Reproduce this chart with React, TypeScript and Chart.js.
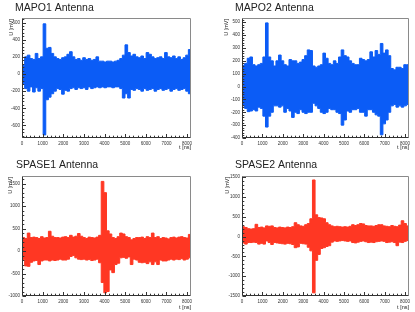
import React, { useEffect, useRef } from "react";
import { Chart, registerables } from "chart.js";

Chart.register(...registerables);

// ---- data (envelope of each waveform per 128 ns bin, in mV) ----
const BIN_NS = 128;
const RECORD_NS = 8192;

const xTickLabels = [0, 1000, 2000, 3000, 4000, 5000, 6000, 7000, 8000];

const mapo1Hi = [100, 200, 220, 180, 170, 240, 180, 200, 585, 300, 310, 240, 200, 180, 170, 190, 200, 230, 260, 200, 170, 180, 160, 190, 170, 180, 160, 170, 200, 150, 150, 140, 150, 150, 140, 150, 160, 180, 220, 340, 250, 210, 230, 200, 190, 210, 180, 250, 230, 200, 180, 190, 200, 180, 250, 200, 190, 210, 180, 200, 170, 190, 220, 285];
const mapo1Lo = [-110, -170, -200, -150, -210, -160, -200, -170, -710, -300, -270, -230, -200, -170, -180, -235, -190, -200, -170, -160, -180, -160, -170, -160, -180, -150, -170, -160, -150, -160, -150, -160, -150, -150, -160, -150, -150, -170, -280, -230, -280, -180, -190, -170, -180, -200, -170, -190, -180, -170, -200, -180, -170, -190, -180, -170, -200, -180, -170, -190, -180, -170, -200, -230];
const mapo1YTicks = [-600, -400, -200, 0, 200, 400, 600];

const mapo2Hi = [165, 180, 220, 230, 170, 160, 170, 180, 230, 495, 230, 200, 160, 200, 245, 200, 170, 160, 210, 200, 200, 180, 190, 210, 240, 285, 280, 160, 150, 160, 170, 260, 220, 180, 170, 200, 180, 230, 285, 240, 230, 200, 180, 170, 170, 220, 210, 200, 210, 270, 230, 280, 250, 335, 260, 285, 240, 140, 130, 150, 150, 140, 170, 170];
const mapo2Lo = [-150, -170, -195, -190, -180, -190, -160, -170, -230, -315, -230, -200, -150, -150, -160, -150, -200, -170, -190, -240, -200, -210, -180, -200, -210, -200, -200, -130, -150, -170, -200, -210, -200, -170, -180, -180, -200, -210, -300, -260, -190, -200, -180, -180, -170, -200, -200, -230, -180, -180, -200, -220, -230, -375, -290, -260, -200, -150, -140, -160, -150, -160, -150, -140];
const mapo2YTicks = [-400, -300, -200, -100, 0, 100, 200, 300, 400, 500];

const spase1Hi = [300, 280, 400, 300, 310, 300, 280, 320, 290, 300, 440, 330, 300, 300, 290, 310, 320, 300, 350, 310, 330, 390, 330, 300, 280, 310, 300, 290, 310, 350, 1550, 1300, 450, 380, 300, 280, 320, 400, 380, 320, 300, 250, 280, 300, 300, 310, 280, 320, 300, 400, 300, 320, 280, 300, 290, 270, 300, 310, 290, 310, 320, 300, 290, 370];
const spase1Lo = [-190, -330, -340, -250, -220, -210, -300, -220, -200, -200, -220, -200, -210, -200, -180, -200, -200, -180, -120, -100, -150, -180, -190, -180, -200, -190, -210, -200, -180, -260, -700, -930, -900, -420, -480, -300, -270, -150, -140, -160, -130, -300, -180, -200, -250, -260, -250, -280, -240, -300, -240, -300, -200, -220, -220, -200, -180, -200, -180, -190, -170, -200, -180, -150];
const spase1YTicks = [-1000, -500, 0, 500, 1000, 1500];

const spase2Hi = [250, 230, 200, 190, 200, 310, 230, 240, 220, 270, 260, 270, 230, 220, 240, 230, 220, 240, 230, 250, 350, 300, 270, 260, 300, 330, 450, 1430, 550, 480, 470, 450, 350, 300, 270, 250, 260, 250, 240, 250, 240, 260, 300, 280, 300, 330, 320, 280, 270, 270, 260, 280, 300, 300, 270, 260, 250, 280, 260, 250, 290, 400, 330, 270];
const spase2Lo = [-160, -190, -150, -150, -140, -150, -190, -170, -190, -110, -150, -200, -150, -160, -170, -180, -190, -170, -180, -200, -280, -260, -170, -180, -190, -270, -360, -1420, -600, -450, -300, -280, -250, -230, -140, -110, -120, -110, -100, -110, -120, -110, -150, -160, -140, -120, -110, -130, -150, -140, -150, -130, -120, -110, -120, -150, -140, -130, -150, -230, -140, -150, -120, -100];
const spase2YTicks = [-1500, -1000, -500, 0, 500, 1000, 1500];

// ---- styling ----
const BLUE = "#0b5cf6";
const RED = "#ff3723";
const FONT = '"Liberation Sans", Arial, Helvetica, sans-serif';

type Panel = {
  title: string;
  hi: number[];
  lo: number[];
  color: string;
  yMin: number;
  yMax: number;
  yTicks: number[];
  yMinorStep: number;
  box: { x: number; y: number; w: number; h: number };
  area: { l: number; r: number; t: number; b: number };
  titleX: number;
  titleY: number;
  yTitleX: number;
  xTitleY: number;
};

const panels: Panel[] = [
  {
    title: "MAPO1 Antenna", hi: mapo1Hi, lo: mapo1Lo, color: BLUE,
    yMin: -746, yMax: 653, yTicks: mapo1YTicks, yMinorStep: 40,
    box: { x: 0, y: 0, w: 207, h: 156 }, area: { l: 22, r: 191, t: 18, b: 138 },
    titleX: 15, titleY: 11, yTitleX: 11.5, xTitleY: 147.5,
  },
  {
    title: "MAPO2 Antenna", hi: mapo2Hi, lo: mapo2Lo, color: BLUE,
    yMin: -400, yMax: 533, yTicks: mapo2YTicks, yMinorStep: 20,
    box: { x: 207, y: 0, w: 208, h: 156 }, area: { l: 35, r: 202, t: 18, b: 138 },
    titleX: 28, titleY: 11, yTitleX: 19.5, xTitleY: 147.5,
  },
  {
    title: "SPASE1 Antenna", hi: spase1Hi, lo: spase1Lo, color: RED,
    yMin: -1000, yMax: 1670, yTicks: spase1YTicks, yMinorStep: 100,
    box: { x: 0, y: 156, w: 207, h: 156 }, area: { l: 22, r: 191, t: 20, b: 140 },
    titleX: 16, titleY: 12, yTitleX: 10.5, xTitleY: 151,
  },
  {
    title: "SPASE2 Antenna", hi: spase2Hi, lo: spase2Lo, color: RED,
    yMin: -1500, yMax: 1530, yTicks: spase2YTicks, yMinorStep: 100,
    box: { x: 207, y: 156, w: 208, h: 156 }, area: { l: 35, r: 202, t: 20, b: 140 },
    titleX: 28, titleY: 12, yTitleX: 20, xTitleY: 151,
  },
];

function makeDecor(p: Panel) {
  return {
    id: "rootDecor",
    afterDraw(chart: any) {
      const { ctx, chartArea: a, scales } = chart;
      const xs = scales.x;
      const ys = scales.y;
      const L = Math.round(a.left) + 0.5;
      const R = Math.round(a.right) - 0.5;
      const T = Math.round(a.top) + 0.5;
      const B = Math.round(a.bottom) - 0.5;
      ctx.save();
      // frame
      ctx.lineWidth = 1;
      ctx.strokeStyle = "#8a8a8a";
      ctx.beginPath();
      ctx.moveTo(L, T);
      ctx.lineTo(R, T);
      ctx.lineTo(R, B);
      ctx.stroke();
      ctx.strokeStyle = "#333";
      ctx.beginPath();
      ctx.moveTo(L, T);
      ctx.lineTo(L, B);
      ctx.lineTo(R, B);
      ctx.stroke();
      // x ticks (inward)
      ctx.beginPath();
      for (let v = 0; v <= RECORD_NS; v += 200) {
        const px = Math.round(xs.getPixelForValue(v)) + 0.5;
        const len = v % 1000 === 0 ? 3.5 : 1.8;
        ctx.moveTo(px, B);
        ctx.lineTo(px, B - len);
      }
      // y ticks (inward)
      const major = p.yTicks[1] - p.yTicks[0];
      const start = Math.ceil(p.yMin / p.yMinorStep) * p.yMinorStep;
      for (let v = start; v <= p.yMax; v += p.yMinorStep) {
        const py = Math.round(ys.getPixelForValue(v)) + 0.5;
        const len = Math.abs(v % major) < 1e-6 ? 3.5 : 1.8;
        ctx.moveTo(L, py);
        ctx.lineTo(L + len, py);
      }
      ctx.stroke();
      // titles
      ctx.fillStyle = "#222";
      ctx.font = `10.5px ${FONT}`;
      ctx.textAlign = "left";
      ctx.textBaseline = "alphabetic";
      ctx.fillText(p.title, p.titleX, p.titleY);
      // axis titles
      ctx.font = `5.5px ${FONT}`;
      ctx.fillStyle = "#222";
      ctx.textAlign = "right";
      ctx.textBaseline = "middle";
      ctx.fillText("t [ns]", a.right, p.xTitleY);
      ctx.translate(p.yTitleX, a.top + 1);
      ctx.rotate(-Math.PI / 2);
      ctx.fillText("U [mV]", 0, 0);
      ctx.restore();
    },
  };
}

function PanelChart({ p }: { p: Panel }) {
  const ref = useRef<HTMLCanvasElement>(null);
  useEffect(() => {
    const canvas = ref.current;
    if (!canvas) return;
    const hiPts = p.hi.map((v, i) => ({ x: i * BIN_NS, y: v }));
    hiPts.push({ x: RECORD_NS, y: p.hi[p.hi.length - 1] });
    const loPts = p.lo.map((v, i) => ({ x: i * BIN_NS, y: v }));
    loPts.push({ x: RECORD_NS, y: p.lo[p.lo.length - 1] });
    const { w, h } = p.box;
    const a = p.area;
    const chart = new Chart(canvas, {
      type: "line",
      data: {
        datasets: [
          {
            data: hiPts,
            borderColor: p.color,
            backgroundColor: p.color,
            borderWidth: 1,
            pointRadius: 0,
            stepped: "before",
            fill: "+1",
          },
          {
            data: loPts,
            borderColor: p.color,
            backgroundColor: p.color,
            borderWidth: 1,
            pointRadius: 0,
            stepped: "before",
            fill: false,
          },
        ],
      },
      options: {
        animation: false,
        responsive: false,
        maintainAspectRatio: false,
        devicePixelRatio: 1,
        events: [],
        layout: { padding: { left: 0, right: w - a.r, top: a.t, bottom: 0 } },
        plugins: {
          legend: { display: false },
          tooltip: { enabled: false },
          title: { display: false },
        },
        scales: {
          x: {
            type: "linear",
            min: 0,
            max: RECORD_NS,
            grid: { display: false, drawTicks: false },
            border: { display: false },
            ticks: {
              autoSkip: false,
              maxRotation: 0,
              padding: 3,
              color: "#333",
              font: { size: 4.5, family: FONT },
              callback: (v: any) => String(v),
            },
            afterBuildTicks: (s: any) => {
              s.ticks = xTickLabels.map((v) => ({ value: v }));
            },
            afterFit: (s: any) => {
              s.height = h - a.b;
            },
          },
          y: {
            type: "linear",
            min: p.yMin,
            max: p.yMax,
            grid: { display: false, drawTicks: false },
            border: { display: false },
            ticks: {
              autoSkip: false,
              padding: 2,
              color: "#333",
              font: { size: 4.5, family: FONT },
              callback: (v: any) => String(v),
            },
            afterBuildTicks: (s: any) => {
              s.ticks = p.yTicks.map((v) => ({ value: v }));
            },
            afterFit: (s: any) => {
              s.width = a.l;
            },
          },
        },
      },
      plugins: [makeDecor(p)],
    } as any);
    return () => chart.destroy();
  }, [p]);
  return (
    <canvas
      ref={ref}
      width={p.box.w}
      height={p.box.h}
      style={{
        position: "absolute",
        left: p.box.x,
        top: p.box.y,
        width: p.box.w,
        height: p.box.h,
        display: "block",
      }}
    />
  );
}

export default function App() {
  return (
    <div
      style={{
        position: "absolute",
        left: 0,
        top: 0,
        width: 415,
        height: 312,
        background: "#fff",
        overflow: "hidden",
      }}
    >
      {panels.map((p) => (
        <PanelChart key={p.title} p={p} />
      ))}
    </div>
  );
}
